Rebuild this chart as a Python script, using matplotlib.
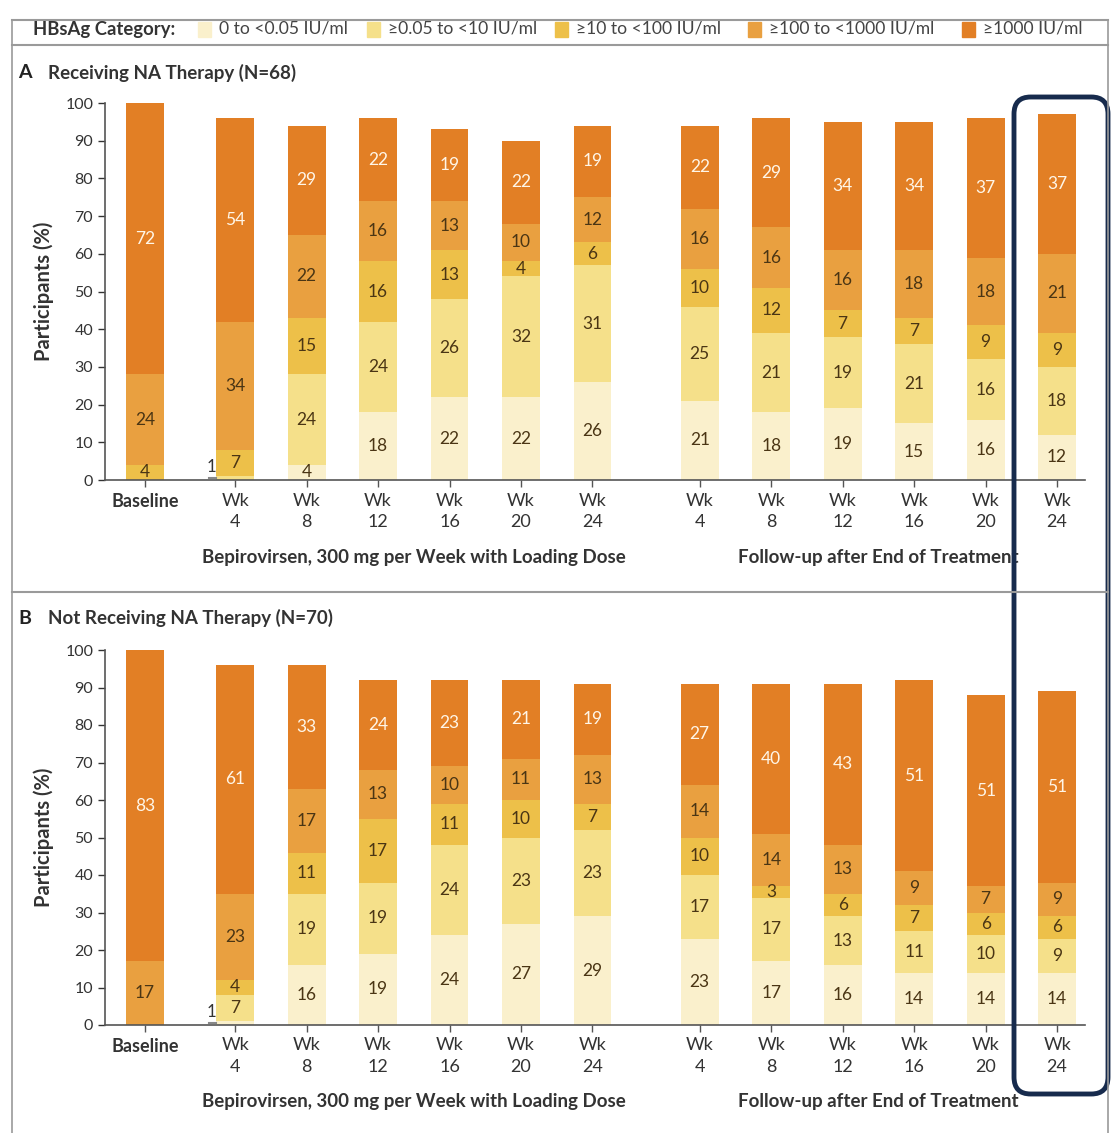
import numpy as np
import matplotlib
matplotlib.use("Agg")
import matplotlib.pyplot as plt
from matplotlib.patches import FancyBboxPatch, Rectangle
from matplotlib.lines import Line2D
from matplotlib.transforms import blended_transform_factory

plt.rcParams["font.family"] = ["Lato", "DejaVu Sans"]

categories = ["0 to <0.05 IU/ml", "\u22650.05 to <10 IU/ml", "\u226510 to <100 IU/ml",
              "\u2265100 to <1000 IU/ml", "\u22651000 IU/ml"]
colors = ["#FAF0CC", "#F5E08A", "#EDC049", "#E9A040", "#E27F25"]
tick_labels = ["Baseline", "Wk\n4", "Wk\n8", "Wk\n12", "Wk\n16", "Wk\n20", "Wk\n24",
               "Wk\n4", "Wk\n8", "Wk\n12", "Wk\n16", "Wk\n20", "Wk\n24"]

# panel A, receiving NA therapy (rows = categories, low to high)
a_c0 = [0, 0, 4, 18, 22, 22, 26, 21, 18, 19, 15, 16, 12]
a_c1 = [0, 1, 24, 24, 26, 32, 31, 25, 21, 19, 21, 16, 18]
a_c2 = [4, 7, 15, 16, 13, 4, 6, 10, 12, 7, 7, 9, 9]
a_c3 = [24, 34, 22, 16, 13, 10, 12, 16, 16, 16, 18, 18, 21]
a_c4 = [72, 54, 29, 22, 19, 22, 19, 22, 29, 34, 34, 37, 37]

# panel B, not receiving NA therapy
b_c0 = [0, 1, 16, 19, 24, 27, 29, 23, 17, 16, 14, 14, 14]
b_c1 = [0, 7, 19, 19, 24, 23, 23, 17, 17, 13, 11, 10, 9]
b_c2 = [0, 4, 11, 17, 11, 10, 7, 10, 3, 6, 7, 6, 6]
b_c3 = [17, 23, 17, 13, 10, 11, 13, 14, 14, 13, 9, 7, 9]
b_c4 = [83, 61, 33, 24, 23, 21, 19, 27, 40, 43, 51, 51, 51]

xpos = np.array([0, 1.26, 2.26, 3.26, 4.26, 5.26, 6.26,
                 7.76, 8.76, 9.76, 10.76, 11.76, 12.76])
W = 0.53

fig = plt.figure(figsize=(11.12, 11.33), dpi=100)


def panel(rect, data, title, title_y):
    ax = fig.add_axes(rect)
    data = np.array(data)
    bottom = np.zeros(len(xpos))
    for k in range(5):
        ax.bar(xpos, data[k], W, bottom=bottom, color=colors[k], edgecolor="none")
        for i, v in enumerate(data[k]):
            if v == 0:
                continue
            tc = "#FFF6E8" if k == 4 else "#4A3514"
            if v <= 1:
                ax.text(xpos[i] - W / 2 - 0.06, bottom[i] + 3.5, str(v), ha="center",
                        va="center", fontsize=12, color="#333333")
                ax.plot([xpos[i] - W / 2 - 0.1, xpos[i] - W / 2], [0.6, 0.6],
                        color="#888888", lw=1.5)
            else:
                ax.text(xpos[i], bottom[i] + v / 2, str(v), ha="center", va="center",
                        fontsize=12.5, color=tc)
        bottom += data[k]
    ax.set_xlim(-0.56, 13.15)
    ax.set_ylim(0, 100)
    ax.set_yticks(range(0, 101, 10))
    ax.set_xticks(xpos)
    ax.set_xticklabels(tick_labels, fontsize=13, color="#333333", linespacing=1.4)
    ax.get_xticklabels()[0].set_fontweight("bold")
    ax.tick_params(axis="y", labelsize=11.5, colors="#333333", length=5, width=1)
    ax.tick_params(axis="x", length=5, width=1, colors="#555555", labelcolor="#333333",
                   pad=4)
    for s in ["top", "right"]:
        ax.spines[s].set_visible(False)
    for s in ["left", "bottom"]:
        ax.spines[s].set_color("#555555")
        ax.spines[s].set_linewidth(1.2)
    ax.set_ylabel("Participants (%)", fontsize=14.5, fontweight="bold", color="#333333",
                  labelpad=8)
    tr = blended_transform_factory(ax.transData, ax.transAxes)
    ax.text((xpos[1] + xpos[6]) / 2, -0.205, "Bepirovirsen, 300 mg per Week with Loading Dose",
            transform=tr, ha="center", va="center", fontsize=13.5, fontweight="bold",
            color="#333333")
    ax.text((xpos[7] + xpos[12]) / 2, -0.205, "Follow-up after End of Treatment",
            transform=tr, ha="center", va="center", fontsize=13.5, fontweight="bold",
            color="#333333")
    fig.text(18 / 1112, 1 - title_y / 1133, title[0], fontsize=14, fontweight="bold",
             color="#222222", va="center")
    fig.text(48 / 1112, 1 - title_y / 1133, title[1], fontsize=13.5, fontweight="bold",
             color="#333333", va="center")
    return ax


panel([105 / 1112, 1 - 480 / 1133, 980 / 1112, 377 / 1133],
      [a_c0, a_c1, a_c2, a_c3, a_c4], ("A", "Receiving NA Therapy (N=68)"), 73)
panel([105 / 1112, 1 - 1025 / 1133, 980 / 1112, 375 / 1133],
      [b_c0, b_c1, b_c2, b_c3, b_c4], ("B", "Not Receiving NA Therapy (N=70)"), 618)

# frame lines
gray = "#9A9A9A"
for y in [20, 45, 592]:
    fig.add_artist(Line2D([12 / 1112, 1108 / 1112], [1 - y / 1133] * 2, color=gray, lw=1.5))
for x in [12, 1108]:
    fig.add_artist(Line2D([x / 1112] * 2, [1 - 20 / 1133, 0], color=gray, lw=1.2))

# legend
ly = 1 - 29 / 1133
fig.text(33 / 1112, ly, "HBsAg Category:", fontsize=13.3, fontweight="bold",
         color="#333333", va="center")
leg_x = [198, 367, 555, 748, 962]
for c, lab, x in zip(colors, categories, leg_x):
    fig.add_artist(Rectangle((x / 1112, ly - 7.5 / 1133), 13 / 1112, 15 / 1133,
                             color=c, transform=fig.transFigure))
    fig.text((x + 21) / 1112, ly, lab, fontsize=12.6, color="#444444", va="center")

# highlight box around final follow-up bar
fig.add_artist(FancyBboxPatch((1014 / 1112, 1 - 1094 / 1133), 94 / 1112, 997 / 1133,
                              boxstyle="round,pad=0,rounding_size=0.015",
                              transform=fig.transFigure, fill=False,
                              edgecolor="#172B4D", lw=3.5))

fig.savefig("out.png", dpi=100)
